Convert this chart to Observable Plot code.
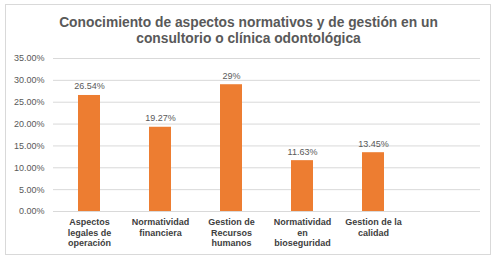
<!DOCTYPE html>
<html>
<head>
<meta charset="utf-8">
<script src="https://cdn.jsdelivr.net/npm/d3@7"></script>
<script src="https://cdn.jsdelivr.net/npm/@observablehq/plot@0.6"></script>
<style>
  html, body { margin: 0; padding: 0; background: #fff; }
  #wrap { position: relative; width: 500px; height: 261px; overflow: hidden; font-family: "Liberation Sans", Arial, sans-serif; }
  #frame { position: absolute; left: 5px; top: 4px; width: 486px; height: 251px; border: 1px solid #d9d9d9; box-sizing: border-box; }
  #title { position: absolute; left: 5px; top: 15px; width: 487px; text-align: center; font-weight: bold; font-size: 13.8px; line-height: 15.5px; color: #595959; }
  #chart { position: absolute; left: 0; top: 0; }
</style>
</head>
<body>
<div id="wrap">
  <div id="frame"></div>
  <div id="title">Conocimiento de aspectos normativos y de gestión en un<br>consultorio o clínica odontológica</div>
  <div id="chart"></div>
</div>
<script>
const categories = [
  "Aspectos\nlegales de\noperación",
  "Normatividad\nfinanciera",
  "Gestion de\nRecursos\nhumanos",
  "Normatividad\nen\nbioseguridad",
  "Gestion de la\ncalidad"
];
const values = [26.54, 19.27, 29, 11.63, 13.45];
const valueLabels = ["26.54%", "19.27%", "29%", "11.63%", "13.45%"];
const yTicks = [0, 5, 10, 15, 20, 25, 30, 35];

const data = categories.map((c, i) => ({cat: c, value: values[i], label: valueLabels[i]}));

const chart = Plot.plot({
  width: 500,
  height: 261,
  marginTop: 58,
  marginBottom: 50,
  marginLeft: 53,
  marginRight: 20,
  style: {fontFamily: "Liberation Sans, Arial, sans-serif", background: "transparent"},
  x: {domain: [...categories, " "], paddingInner: 0.69, paddingOuter: 0.345},
  y: {domain: [0, 35]},
  marks: [
    Plot.gridY(yTicks, {stroke: "#d9d9d9", strokeOpacity: 1, strokeWidth: 1}),
    Plot.axisY(yTicks, {tickSize: 0, tickPadding: 9, fontSize: 9, fill: "#595959", tickFormat: d => d.toFixed(2) + "%", label: null}),
    Plot.axisX({tickSize: 0, tickPadding: 6, fontSize: 9, fontWeight: "bold", fill: "#404040", lineHeight: 1.17, label: null, tickFormat: d => d}),
    Plot.barY(data, {x: "cat", y: "value", fill: "#ED7D31"}),
    Plot.ruleY([0], {stroke: "#d9d9d9"}),
    Plot.text(data, {x: "cat", y: "value", text: "label", dy: -9, fontSize: 9, fill: "#595959"})
  ]
});
document.getElementById("chart").appendChild(chart);
</script>
</body>
</html>
